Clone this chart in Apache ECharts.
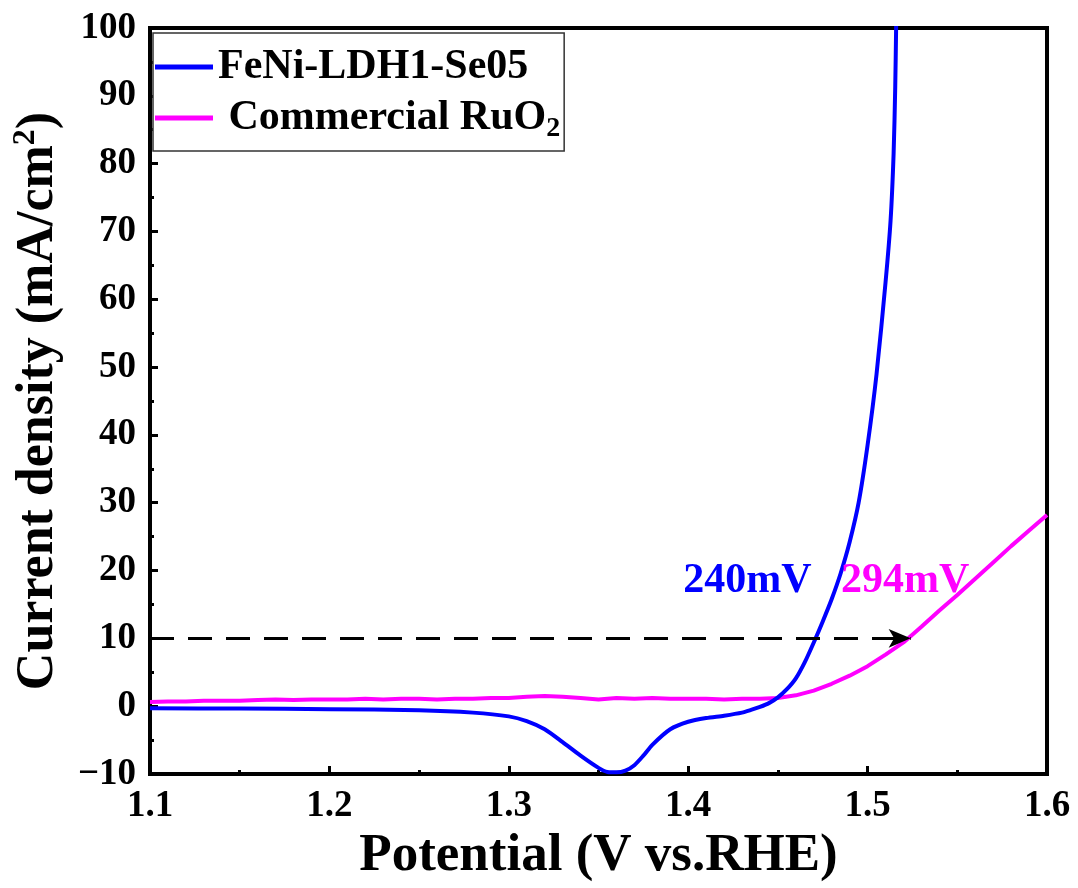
<!DOCTYPE html>
<html>
<head>
<meta charset="utf-8">
<title>LSV</title>
<script src="https://cdn.jsdelivr.net/npm/echarts@6/dist/echarts.min.js"></script>
<style>
  html, body { margin: 0; padding: 0; background: #fff; }
  #myChart { width: 1078px; height: 888px; }
</style>
</head>
<body>
<div id="myChart"></div>
<script>
  // FeNi-LDH1-Se05 (potential V vs. RHE, current density mA/cm2)
  const ldhX = [1.10, 1.15, 1.20, 1.25, 1.28, 1.30, 1.31, 1.32, 1.33, 1.34, 1.35, 1.355, 1.36, 1.365, 1.37, 1.375,
    1.38, 1.39, 1.40, 1.41, 1.42, 1.43, 1.435, 1.44, 1.445, 1.45, 1.455, 1.46, 1.465, 1.47, 1.475, 1.48, 1.485,
    1.49, 1.495, 1.50, 1.505, 1.51, 1.5128, 1.5145, 1.5154, 1.5159, 1.5163]
  const ldhY = [-0.3, -0.35, -0.45, -0.6, -0.95, -1.5, -2.2, -3.4, -5.3, -7.3, -9.1, -9.7, -9.75, -9.5, -8.7, -7.3,
    -5.7, -3.4, -2.3, -1.75, -1.4, -0.95, -0.55, -0.1, 0.45, 1.3, 2.5, 4.1, 6.5, 9.4, 12.5, 15.8, 19.6,
    24.2, 30.0, 38.5, 49.0, 62.5, 71.6, 81.5, 91.3, 100, 108]

  // Commercial RuO2
  const ruoX = [1.10, 1.11, 1.12, 1.13, 1.14, 1.15, 1.16, 1.17, 1.18, 1.19, 1.20, 1.21, 1.22, 1.23, 1.24, 1.25,
    1.26, 1.27, 1.28, 1.29, 1.30, 1.31, 1.32, 1.33, 1.34, 1.35, 1.36, 1.37, 1.38, 1.39, 1.40, 1.41,
    1.42, 1.43, 1.44, 1.45, 1.46, 1.47, 1.48, 1.49, 1.50, 1.51, 1.52, 1.53, 1.54, 1.55, 1.56, 1.57,
    1.58, 1.59, 1.60]
  const ruoY = [0.6, 0.7, 0.7, 0.8, 0.8, 0.8, 0.9, 1.0, 0.9, 1.0, 1.0, 1.0, 1.1, 1.0, 1.1, 1.1,
    1.0, 1.1, 1.1, 1.2, 1.2, 1.4, 1.5, 1.4, 1.2, 1.0, 1.2, 1.1, 1.2, 1.1, 1.1, 1.1,
    1.0, 1.1, 1.1, 1.2, 1.6, 2.3, 3.3, 4.5, 5.9, 7.6, 9.4, 11.7, 14.1, 16.4, 18.8, 21.2,
    23.6, 25.9, 28.2]

  // 10 mA/cm2 reference arrow and overpotential labels
  const arrowFrom = [1.10, 10]
  const arrowTo = [1.524, 10]
  const labelLdh = { text: '240mV', at: [1.433, 18.4] }
  const labelRuo = { text: '294mV', at: [1.521, 18.4] }

  const serif = "'Liberation Serif', 'Times New Roman', serif"
  const blue = '#0000ff'
  const pink = '#ff00ff'

  const zip = (xs, ys) => xs.map((x, i) => [x, ys[i]])

  let myChart = echarts.init(document.getElementById('myChart'))
  myChart.setOption({
    animation: false,
    grid: {
      left: 150, right: 31, top: 28, bottom: 114,
      show: true, borderColor: '#000', borderWidth: 4
    },
    legend: {
      orient: 'vertical',
      left: 153, top: 33,
      backgroundColor: '#fff',
      borderColor: '#333', borderWidth: 1.5,
      padding: [13, 4, 8, 2],
      itemGap: 9,
      itemWidth: 58, itemHeight: 5,
      data: [
        { name: 'FeNi-LDH1-Se05', icon: 'rect' },
        { name: 'Commercial RuO2', icon: 'rect' }
      ],
      formatter: name => name === 'Commercial RuO2' ? ' Commercial RuO{sub|2}' : name,
      textStyle: {
        fontFamily: serif, fontWeight: 'bold', fontSize: 42, color: '#000',
        rich: {
          sub: { fontFamily: serif, fontWeight: 'bold', fontSize: 28, color: '#000', padding: [22, 0, 0, 0] }
        }
      }
    },
    xAxis: {
      type: 'value',
      min: 1.1, max: 1.6, interval: 0.1,
      name: 'Potential (V vs.RHE)',
      nameLocation: 'middle',
      nameGap: 46,
      nameTextStyle: { fontFamily: serif, fontWeight: 'bold', fontSize: 53, color: '#000' },
      axisLine: { onZero: false, lineStyle: { color: '#000', width: 4 } },
      axisTick: { inside: true, length: 8, lineStyle: { color: '#000', width: 3 } },
      minorTick: { show: true, splitNumber: 2, length: 4, lineStyle: { color: '#000', width: 3 } },
      splitLine: { show: false },
      axisLabel: {
        margin: 14,
        fontFamily: serif, fontWeight: 'bold', fontSize: 37, color: '#000',
        formatter: v => v.toFixed(1)
      }
    },
    yAxis: {
      type: 'value',
      min: -10, max: 100, interval: 10,
      name: 'Current density (mA/cm{sup|2})',
      nameLocation: 'middle',
      nameGap: 82,
      nameRotate: 90,
      nameTextStyle: {
        fontFamily: serif, fontWeight: 'bold', fontSize: 52, color: '#000',
        rich: {
          sup: { fontFamily: serif, fontWeight: 'bold', fontSize: 32, color: '#000', padding: [0, 0, 26, 0] }
        }
      },
      axisLine: { onZero: false, lineStyle: { color: '#000', width: 4 } },
      axisTick: { inside: true, length: 8, lineStyle: { color: '#000', width: 3 } },
      minorTick: { show: true, splitNumber: 2, length: 4, lineStyle: { color: '#000', width: 3 } },
      splitLine: { show: false },
      axisLabel: {
        margin: 14,
        fontFamily: serif, fontWeight: 'bold', fontSize: 37, color: '#000',
        formatter: v => v < 0 ? '\u2212' + Math.abs(v) : String(v)
      }
    },
    series: [
      {
        name: 'Commercial RuO2',
        type: 'line',
        symbol: 'none',
        color: pink,
        lineStyle: { color: pink, width: 4 },
        data: zip(ruoX, ruoY),
        markPoint: {
          symbolSize: 0,
          silent: true,
          label: { show: true, color: pink, fontFamily: serif, fontWeight: 'bold', fontSize: 42, formatter: labelRuo.text },
          data: [{ coord: labelRuo.at }]
        }
      },
      {
        name: 'FeNi-LDH1-Se05',
        type: 'line',
        symbol: 'none',
        smooth: 0.25,
        color: blue,
        lineStyle: { color: blue, width: 4 },
        data: zip(ldhX, ldhY),
        markPoint: {
          symbolSize: 0,
          silent: true,
          label: { show: true, color: blue, fontFamily: serif, fontWeight: 'bold', fontSize: 42, formatter: labelLdh.text },
          data: [{ coord: labelLdh.at }]
        },
        markLine: {
          silent: true,
          symbol: ['none', 'arrow'],
          symbolSize: [14, 22],
          label: { show: false },
          lineStyle: { color: '#000', width: 3, type: [24, 14] },
          data: [[{ coord: arrowFrom }, { coord: arrowTo }]]
        }
      }
    ]
  })
</script>
</body>
</html>
